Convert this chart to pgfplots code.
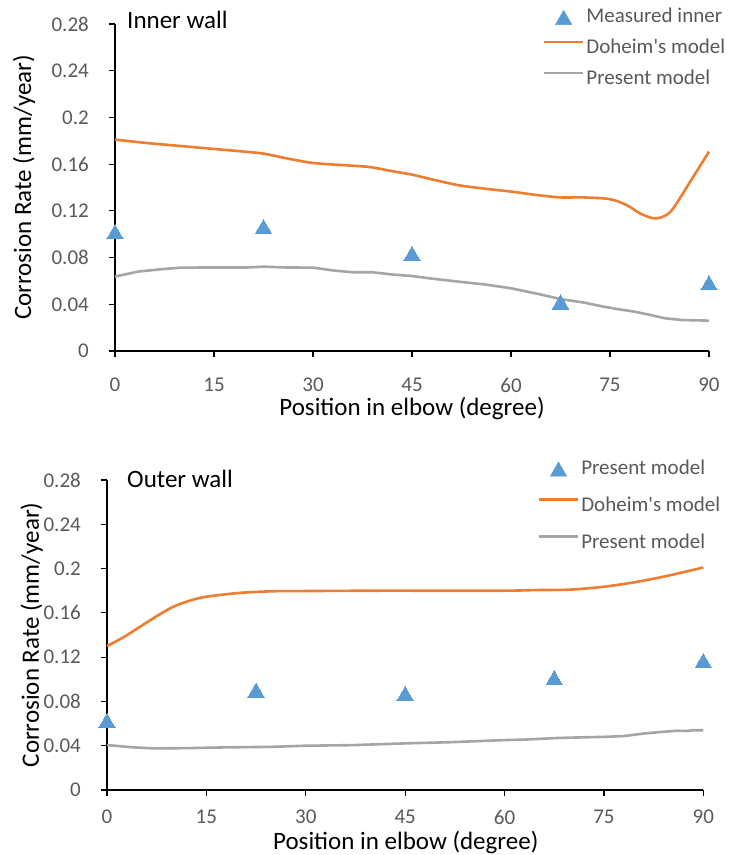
\documentclass[border=0pt]{standalone}
\usepackage{pgfplots}
\pgfplotsset{compat=1.18}
\usepackage{fontspec}
\setmainfont{Carlito}

\definecolor{dohorange}{HTML}{ED7D31}
\definecolor{presgray}{HTML}{A5A5A5}
\definecolor{measblue}{HTML}{5B9BD5}
\definecolor{ticktext}{HTML}{595959}

% measured points (position in degrees, corrosion rate in mm/year)
\pgfplotstableread{
x y
0    0.1000
22.5 0.1045
45   0.0814
67.5 0.0400
90   0.0563
}\innermeas
\pgfplotstableread{
x y
0    0.0605
22.5 0.0880
45   0.0850
67.5 0.0993
90   0.1147
}\outermeas

\newcommand\ticksize{\fontsize{21bp}{24bp}\selectfont}
\newcommand\labelsize{\fontsize{25bp}{28bp}\selectfont}

\pgfplotsset{
  elbowaxis/.style={
    scale only axis,
    xmin=0, xmax=90, ymin=0, ymax=0.28,
    axis x line=bottom, axis y line=left,
    axis line style={-, black, line width=1.2bp},
    every tick/.style={black, line width=1.2bp},
    tick align=outside, major tick length=6bp,
    xtick={0,15,30,45,60,75,90},
    ytick={0,0.04,0.08,0.12,0.16,0.2,0.24,0.28},
    yticklabels={0,0.04,0.08,0.12,0.16,0.2,0.24,0.28},
    /pgf/number format/assume math mode=true,
    tick label style={font=\ticksize, text=ticktext, inner sep=0pt},
    clip=false,
    legend style={draw=none, fill=none, inner sep=0pt, column sep=2bp,
      font=\ticksize, text=ticktext,
      nodes={inner sep=0pt, text height=16bp, text depth=4bp},
      anchor=north west},
    legend cell align=left,
    meas/.style={only marks, mark=triangle*, mark size=9.5bp, color=measblue,
      mark options={draw=measblue, fill=measblue, line width=0pt},
      legend image code/.code={\fill[measblue] (19.5bp,6.5bp) -- ++(-8.2bp,-14.2bp) -- ++(16.4bp,0) -- cycle;}},
    modelline/.style={line width=2.6bp, no marks,
      legend image code/.code={\draw[##1, line width=2.6bp] (0bp,6bp) -- (39bp,6bp);}},
  }
}

\begin{document}
\begin{tikzpicture}
\useasboundingbox (0bp,0bp) rectangle (730bp,855bp);

% ---------- inner wall ----------
\begin{axis}[elbowaxis,
  at={(115bp,504bp)}, anchor=south west, width=594bp, height=327bp,
  xticklabel style={yshift=-21bp},
  yticklabel style={xshift=-20bp},
  xlabel={Position in elbow (degree)},
  ylabel={Corrosion Rate (mm/year)},
  every axis x label/.style={at={(axis description cs:0.5,-0.176)}, anchor=center, inner sep=0pt, font=\labelsize},
  every axis y label/.style={at={(axis description cs:-0.153,0.5)}, rotate=90, anchor=center, inner sep=0pt, font=\labelsize},
  legend style={at={(axis description cs:0.72,1.053)}, row sep=11bp},
]
\addplot[meas] table[x=x,y=y] {\innermeas};
\addlegendentry{Measured inner}
\addplot[modelline, dohorange, smooth] coordinates {
(0,0.181) (5,0.178) (10,0.1755) (15,0.173) (20,0.1705) (22.5,0.169)
(26,0.165) (30,0.161) (35,0.159) (38.6,0.1575) (42,0.154) (45,0.151)
(48,0.147) (52,0.142) (56,0.139) (60,0.1365) (64,0.1335) (67.5,0.1315)
(71,0.1315) (75,0.130) (77.5,0.125) (79.5,0.118) (81.5,0.1137) (83,0.1150)
(84.5,0.1215) (87.6,0.149) (90,0.1707)};
\addlegendentry{Doheim\textquotesingle s model}
\addplot[modelline, presgray] coordinates {
(0,0.0637) (3.5,0.068) (7,0.070) (10,0.0714) (15,0.0715) (20,0.0715)
(22.5,0.0722) (26,0.0715) (30,0.0714) (33,0.069) (36,0.0674) (39,0.0674)
(42,0.0655) (45,0.0642) (48,0.062) (52,0.0594) (56,0.057) (60,0.0537)
(62.3,0.051) (64,0.049) (67.5,0.0445) (71,0.0415) (74,0.038) (76,0.036)
(78.7,0.0337) (81,0.031) (83.3,0.028) (86,0.0265) (90,0.026)};
\addlegendentry{Present model}
\end{axis}

% ---------- outer wall ----------
\begin{axis}[elbowaxis,
  at={(107bp,65bp)}, anchor=south west, width=596.3bp, height=310bp,
  xticklabel style={yshift=-14bp},
  yticklabel style={xshift=-20bp},
  xlabel={Position in elbow (degree)},
  ylabel={Corrosion Rate (mm/year)},
  every axis x label/.style={at={(axis description cs:0.501,-0.168)}, anchor=center, inner sep=0pt, font=\labelsize},
  every axis y label/.style={at={(axis description cs:-0.126,0.5)}, rotate=90, anchor=center, inner sep=0pt, font=\labelsize},
  legend style={at={(axis description cs:0.722,1.07)}, row sep=17bp},
]
\addplot[meas] table[x=x,y=y] {\outermeas};
\addlegendentry{Present model}
\addplot[modelline, dohorange, smooth] coordinates {
(0,0.130) (2.5,0.138) (5,0.1475) (7.5,0.157) (10,0.1655) (12.5,0.171)
(15,0.1746) (20,0.178) (25,0.1795) (30,0.1797) (40,0.180) (50,0.180)
(60,0.180) (65,0.1806) (70,0.181) (75,0.1836) (80,0.188) (85,0.194) (90,0.201)};
\addlegendentry{Doheim\textquotesingle s model}
\addplot[modelline, presgray] coordinates {
(0,0.0406) (4,0.0385) (7,0.0376) (12,0.0378) (18,0.0385) (25,0.039)
(30,0.040) (37,0.0405) (42,0.0415) (45,0.0421) (52,0.0432) (60,0.0451)
(63,0.0455) (68,0.047) (75,0.048) (78,0.0487) (81,0.051) (84,0.0526)
(86,0.0535) (87.5,0.0533) (88.5,0.054) (90,0.054)};
\addlegendentry{Present model}
\end{axis}

% panel captions
\node[anchor=base west, inner sep=0pt, font=\labelsize] at (127bp,826bp) {Inner wall};
\node[anchor=base west, inner sep=0pt, font=\labelsize] at (127bp,367.7bp) {Outer wall};
\end{tikzpicture}
\end{document}
